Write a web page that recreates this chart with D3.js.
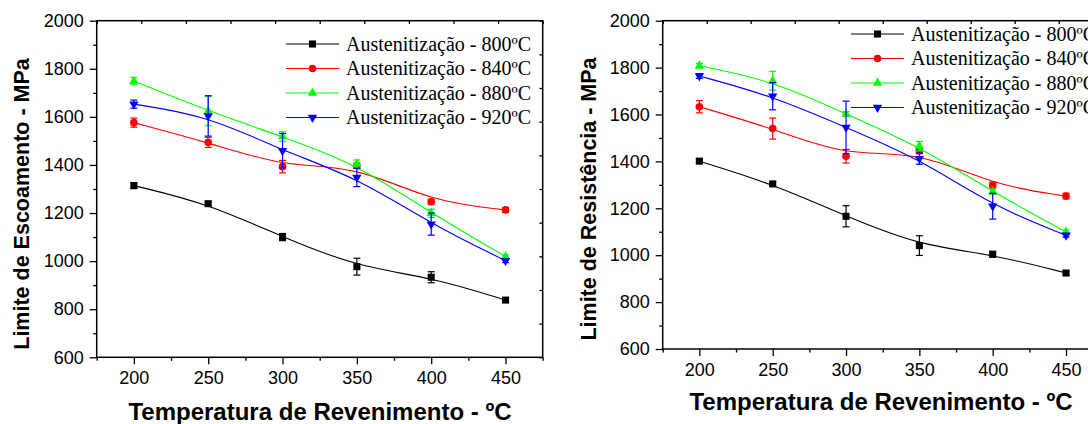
<!DOCTYPE html>
<html>
<head>
<meta charset="utf-8">
<script src="https://cdn.jsdelivr.net/npm/d3@7"></script>
<style>
  body { margin: 0; background: #ffffff; }
  svg { display: block; }
</style>
</head>
<body>
<svg id="chart" width="1088" height="424"></svg>
<script>
// Tempering temperatures (ºC)
const temperatures = [200, 250, 300, 350, 400, 450];

const seriesLabels = [
  "Austenitização - 800ºC",
  "Austenitização - 840ºC",
  "Austenitização - 880ºC",
  "Austenitização - 920ºC"
];
const seriesColors = ["#000000", "#ff0000", "#00ff00", "#0000ff"];
const seriesSymbols = ["square", "circle", "triangle-up", "triangle-down"];

// Limite de escoamento (MPa) and standard deviations
const yield800 = [1314, 1239, 1100, 977, 933, 838];
const yield800Err = [12, 8, 15, 35, 23, 8];
const yield840 = [1576, 1494, 1393, 1397, 1247, 1213];
const yield840Err = [19, 21, 26, 10, 10, 10];
const yield880 = [1749, 1624, 1518, 1404, 1199, 1019];
const yield880Err = [15, 61, 20, 17, 17, 8];
const yield920 = [1653, 1604, 1459, 1348, 1154, 1002];
const yield920Err = [17, 84, 72, 38, 46, 8];

// Limite de resistência (MPa) and standard deviations
const tensile800 = [1401, 1304, 1166, 1041, 1004, 924];
const tensile800Err = [8, 8, 45, 42, 12, 8];
const tensile840 = [1633, 1540, 1422, 1445, 1299, 1252];
const tensile840Err = [26, 45, 29, 12, 12, 12];
const tensile880 = [1808, 1744, 1602, 1465, 1270, 1099];
const tensile880Err = [10, 40, 10, 20, 10, 8];
const tensile920 = [1764, 1678, 1545, 1412, 1209, 1085];
const tensile920Err = [10, 58, 112, 24, 55, 8];

// Axis ticks
const xMajorTicks = [200, 250, 300, 350, 400, 450];
const xMinorTicks = [175, 225, 275, 325, 375, 425, 475];
const yMajorTicks = [600, 800, 1000, 1200, 1400, 1600, 1800, 2000];
const yMinorTicks = [700, 900, 1100, 1300, 1500, 1700, 1900];
const xDomain = [175, 475];
const yDomain = [600, 2000];

const xTitle = "Temperatura de Revenimento - ºC";

const panels = [
  {
    frame: { left: 96.7, right: 542.7, top: 20.7, bottom: 357.3 },
    yTitle: "Limite de Escoamento - MPa",
    yTitlePos: [28.5, 204],
    xTitlePos: [320, 420],
    legendPos: [286, 44],
    values: [yield800, yield840, yield880, yield920],
    errors: [yield800Err, yield840Err, yield880Err, yield920Err]
  },
  {
    frame: { left: 662.7, right: 1102.7, top: 20.7, bottom: 349 },
    yTitle: "Limite de Resistência - MPa",
    yTitlePos: [596, 199],
    xTitlePos: [881, 410],
    legendPos: [851, 34],
    values: [tensile800, tensile840, tensile880, tensile920],
    errors: [tensile800Err, tensile840Err, tensile880Err, tensile920Err]
  }
];

const svg = d3.select("#chart");
const sansFont = "'Liberation Sans', Arial, sans-serif";
const serifFont = "'Liberation Serif', 'Times New Roman', serif";

function symbolPath(kind) {
  if (kind === "square") return d3.symbol(d3.symbolSquare, 50)();
  if (kind === "circle") return d3.symbol(d3.symbolCircle, 46)();
  return d3.symbol(d3.symbolTriangle, 38)();
}

function drawMarker(g, kind, color, x, y) {
  const rot = kind === "triangle-down" ? " rotate(180)" : "";
  g.append("path")
    .attr("d", symbolPath(kind))
    .attr("transform", `translate(${x},${y})${rot}`)
    .attr("fill", color)
    .attr("stroke", "none");
}

function styleAxis(g) {
  g.select(".domain").remove();
  g.selectAll(".tick line").attr("stroke", "#000").attr("stroke-width", 1.3);
}

panels.forEach(p => {
  const f = p.frame;
  const x = d3.scaleLinear().domain(xDomain).range([f.left, f.right]);
  const y = d3.scaleLinear().domain(yDomain).range([f.bottom, f.top]);
  const g = svg.append("g");

  // bottom axis: labelled majors and short minors
  const bottom = g.append("g").attr("transform", `translate(0,${f.bottom})`)
    .call(d3.axisBottom(x).tickValues(xMajorTicks).tickSize(7).tickPadding(7).tickFormat(d3.format("d")));
  bottom.selectAll("text").attr("font-family", sansFont).attr("font-size", 18).attr("fill", "#000");
  styleAxis(bottom);
  const bottomMinor = g.append("g").attr("transform", `translate(0,${f.bottom})`)
    .call(d3.axisBottom(x).tickValues(xMinorTicks).tickSize(3.5).tickFormat(""));
  styleAxis(bottomMinor);

  // left axis
  const left = g.append("g").attr("transform", `translate(${f.left},0)`)
    .call(d3.axisLeft(y).tickValues(yMajorTicks).tickSize(7).tickPadding(6).tickFormat(d3.format("d")));
  left.selectAll("text").attr("font-family", sansFont).attr("font-size", 18).attr("fill", "#000");
  styleAxis(left);
  const leftMinor = g.append("g").attr("transform", `translate(${f.left},0)`)
    .call(d3.axisLeft(y).tickValues(yMinorTicks).tickSize(3.5).tickFormat(""));
  styleAxis(leftMinor);

  // top and right frame ticks (ten equal divisions, pointing inward)
  const fracX = d3.scaleLinear().domain([0, 1]).range([f.left, f.right]);
  const fracY = d3.scaleLinear().domain([0, 1]).range([f.bottom, f.top]);
  const divisions = d3.range(0, 11).map(i => i / 10);
  const top = g.append("g").attr("transform", `translate(0,${f.top})`)
    .call(d3.axisTop(fracX).tickValues(divisions).tickSize(-3.3).tickFormat(""));
  styleAxis(top);
  const right = g.append("g").attr("transform", `translate(${f.right},0)`)
    .call(d3.axisRight(fracY).tickValues(divisions).tickSize(-3.3).tickFormat(""));
  styleAxis(right);

  // frame
  g.append("rect")
    .attr("x", f.left).attr("y", f.top)
    .attr("width", f.right - f.left).attr("height", f.bottom - f.top)
    .attr("fill", "none").attr("stroke", "#000").attr("stroke-width", 1.5);

  // series: B-spline line, error bars, markers
  const line = d3.line().curve(d3.curveBasis).x(d => x(d[0])).y(d => y(d[1]));
  p.values.forEach((vals, si) => {
    const color = seriesColors[si];
    const pts = temperatures.map((t, i) => [t, vals[i]]);
    g.append("path").datum(pts)
      .attr("d", line)
      .attr("fill", "none").attr("stroke", color).attr("stroke-width", 1.1);

    const errs = p.errors[si];
    const eg = g.append("g").attr("stroke", color).attr("stroke-width", 1.2).attr("fill", "none");
    pts.forEach((d, i) => {
      const cx = x(d[0]);
      const hi = y(d[1] + errs[i]);
      const lo = y(d[1] - errs[i]);
      eg.append("line").attr("x1", cx).attr("x2", cx).attr("y1", hi).attr("y2", lo);
      eg.append("line").attr("x1", cx - 3.5).attr("x2", cx + 3.5).attr("y1", hi).attr("y2", hi);
      eg.append("line").attr("x1", cx - 3.5).attr("x2", cx + 3.5).attr("y1", lo).attr("y2", lo);
    });

    const mg = g.append("g");
    pts.forEach(d => drawMarker(mg, seriesSymbols[si], color, x(d[0]), y(d[1])));
  });

  // legend
  const [lx, ly] = p.legendPos;
  seriesLabels.forEach((label, si) => {
    const rowY = ly + si * 24.5;
    const color = seriesColors[si];
    g.append("line")
      .attr("x1", lx).attr("x2", lx + 53).attr("y1", rowY).attr("y2", rowY)
      .attr("stroke", color).attr("stroke-width", 1.1);
    drawMarker(g, seriesSymbols[si], color, lx + 26.5, rowY);
    g.append("text")
      .attr("x", lx + 60).attr("y", rowY + 6.7)
      .attr("font-family", serifFont).attr("font-size", 20)
      .attr("fill", "#000")
      .text(label);
  });

  // axis titles
  g.append("text")
    .attr("x", p.xTitlePos[0]).attr("y", p.xTitlePos[1])
    .attr("text-anchor", "middle")
    .attr("font-family", sansFont).attr("font-size", 24).attr("font-weight", "bold")
    .attr("fill", "#000")
    .text(xTitle);
  g.append("text")
    .attr("transform", `translate(${p.yTitlePos[0]},${p.yTitlePos[1]}) rotate(-90)`)
    .attr("text-anchor", "middle")
    .attr("font-family", sansFont).attr("font-size", 21.5).attr("font-weight", "bold")
    .attr("fill", "#000")
    .text(p.yTitle);
});
</script>
</body>
</html>
